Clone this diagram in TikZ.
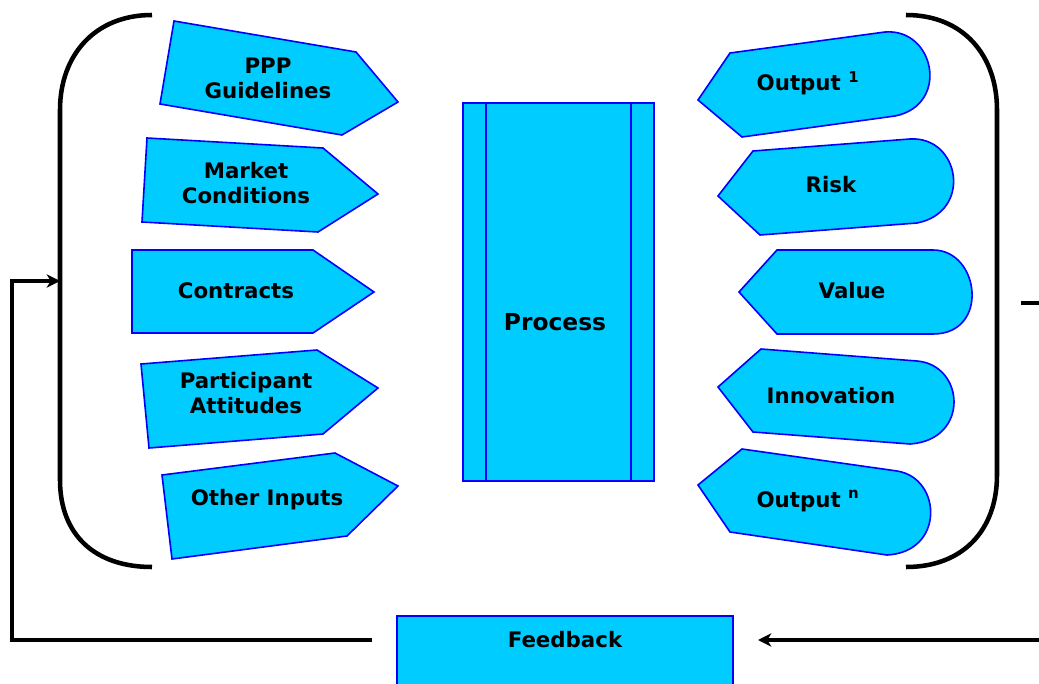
\documentclass[tikz,border=0pt]{standalone}
\usepackage{fontspec}
\setmainfont{DejaVu Sans}
\usepackage{xcolor}
\usetikzlibrary{arrows, arrows.meta, positioning}
\definecolor{boxfill}{HTML}{00CCFF}
\definecolor{boxline}{HTML}{0000FF}

\begin{document}
\begin{tikzpicture}[x=0.75pt,y=-0.75pt]
    \tikzstyle{block}=[fill=boxfill,draw=boxline,line width=1.2pt]
    \tikzstyle{txt}=[font=\fontsize{16}{18.75}\selectfont\bfseries,align=center]
    \tikzstyle{brace}=[line width=3.4pt]
    \tikzstyle{flow}=[line width=2.6pt]
    \tikzstyle{tip}=[-{Stealth[length=10pt,width=10pt,inset=3pt]}]

    \useasboundingbox (0,0) rectangle (1039,684);

    % inputs
    \draw[block] (174,21) -- (356,52) -- (398,102) -- (342,135) -- (160,104) -- cycle;
    \draw[block] (147,138) -- (323,148) -- (378,194) -- (318,232) -- (142,222) -- cycle;
    \draw[block] (132,250) -- (313,250) -- (374,292) -- (313,333) -- (132,333) -- cycle;
    \draw[block] (141,364) -- (317,350) -- (378,388) -- (323,434) -- (149,448) -- cycle;
    \draw[block] (162,475) -- (335,453) -- (398,486) -- (347,536) -- (172,559) -- cycle;

    \node[txt] (I1) at (268,78) {PPP\\Guidelines};
    \node[txt] (I2) at (246,183) {Market\\Conditions};
    \node[txt] (I3) at (236,291) {Contracts};
    \node[txt] (I4) at (246,393) {Participant\\Attitudes};
    \node[txt] (I5) at (267,500) {Other Inputs};

    % outputs
    \draw[block] (698,100) -- (730,53) -- (885,32) .. controls (935,28) and (950,105) .. (895,116) -- (742,137) -- cycle;
    \draw[block] (718,196) -- (753,151) -- (910,139) .. controls (960,136) and (973,212) .. (917,223) -- (760,235) -- cycle;
    \draw[block] (739,292) -- (777,250) -- (933,250) .. controls (980,250) and (990,334) .. (933,334) -- (777,334) -- cycle;
    \draw[block] (718,387) -- (761,349) -- (917,361) .. controls (965,365) and (970,440) .. (910,444) -- (753,432) -- cycle;
    \draw[block] (698,485) -- (742,449) -- (897,471) .. controls (942,478) and (945,552) .. (887,555) -- (730,532) -- cycle;

    \node[txt] (O1) at (808,83) {Output \textsuperscript{1}};
    \node[txt] (O2) at (831,185) {Risk};
    \node[txt] (O3) at (852,291) {Value};
    \node[txt] (O4) at (831,396) {Innovation};
    \node[txt] (O5) at (808,501) {Output \textsuperscript{n}};

    % process
    \node[block,minimum width=143.25pt,minimum height=283.5pt,inner sep=0pt] (P) at (558.5,292) {};
    \draw[boxline,line width=1.2pt] ([xshift=18pt]P.north west) -- ([xshift=18pt]P.south west);
    \draw[boxline,line width=1.2pt] ([xshift=-18pt]P.north east) -- ([xshift=-18pt]P.south east);
    \node[txt,font=\fontsize{17.5}{20}\selectfont\bfseries] (Pt) at (555,322) {Process};

    % brackets
    \draw[brace] (152,15) .. controls (95,15) and (60,55) .. (60,110) -- (60,480) .. controls (60,535) and (95,567) .. (152,567);
    \draw[brace] (906,15) .. controls (963,15) and (997,55) .. (997,110) -- (997,475) .. controls (997,530) and (963,567) .. (906,567);

    % feedback
    \draw[block] (397,616) rectangle (733,690);
    \node[txt] (F) at (565,640) {Feedback};

    \coordinate (Fout) at (372,640);
    \coordinate (Fin) at (758,640);
    \coordinate (FL) at (12,640);
    \coordinate (FT) at (12,281);
    \coordinate (Lb) at (60,281);
    \coordinate (Fr) at (1041,640);
    \coordinate (Ra) at (1021,303);
    \coordinate (Rb) at (1041,303);

    \draw[flow,tip] (Fout) -- (FL) -- (FT) -- (Lb);
    \draw[flow,tip] (Fr) -- (Fin);
    \draw[flow] (Ra) -- (Rb);

\end{tikzpicture}
\end{document}
